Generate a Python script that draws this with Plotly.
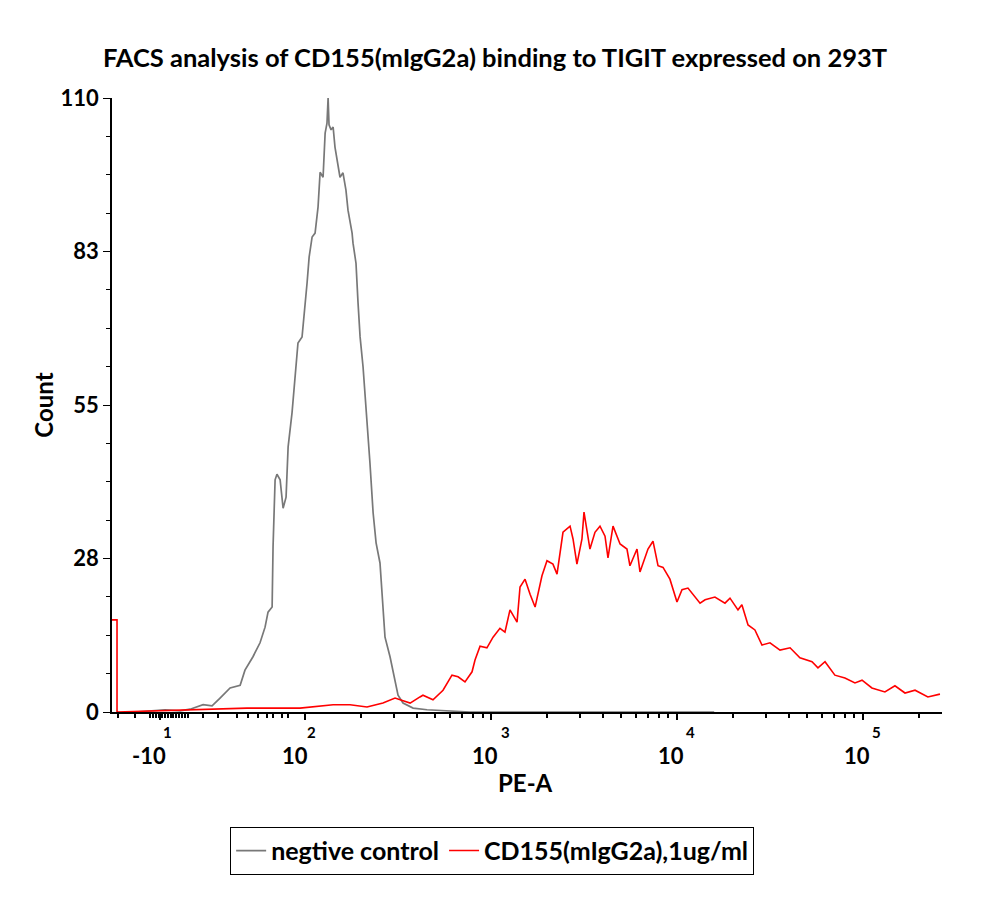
import numpy as np
import plotly.graph_objects as go

# x positions are in display "decade" units of PE-A (10^k sits at k)
neg_x = [1.086, 1.167, 1.247, 1.328, 1.382, 1.452, 1.500, 1.543, 1.597, 1.651, 1.677, 1.720,
         1.758, 1.785, 1.801, 1.823, 1.828, 1.839, 1.849, 1.866, 1.882, 1.898, 1.909, 1.930,
         1.946, 1.962, 1.984, 2.000, 2.011, 2.022, 2.038, 2.054, 2.070, 2.081, 2.097, 2.108,
         2.118, 2.124, 2.129, 2.140, 2.151, 2.161, 2.177, 2.188, 2.204, 2.220, 2.231, 2.253,
         2.258, 2.274, 2.285, 2.296, 2.312, 2.323, 2.333, 2.349, 2.366, 2.382, 2.403, 2.414,
         2.430, 2.457, 2.484, 2.500, 2.527, 2.581, 2.656, 2.753, 2.887, 3.5, 4.2]
neg_y = [0, 0.2, 0.4, 0.2, 0.5, 1.3, 1.1, 2.5, 4.3, 4.8, 7.5, 9.9,
         12.4, 15.2, 17.9, 18.8, 29.6, 41.6, 42.6, 41.6, 36.5, 38.5, 47.5, 53.6,
         59.5, 66.1, 67.2, 72.6, 76.9, 81.5, 85.1, 85.8, 90.5, 96.7, 95.8, 103.7,
         105.5, 110, 105.2, 104.3, 104.8, 101.2, 98.4, 95.8, 96.6, 93.5, 89.9, 85.8,
         84.0, 80.4, 73.3, 67.2, 61.8, 56.8, 53.6, 44.6, 35.7, 30.3, 26.7, 21.9,
         13.4, 9.9, 5.7, 3.0, 1.6, 0.7, 0.4, 0.2, 0, 0, 0]

cd155_x = [0.962, 0.989, 0.989, 1.688, 1.849, 1.973, 2.151, 2.242, 2.333, 2.419, 2.484, 2.511,
           2.548, 2.565, 2.618, 2.634, 2.688, 2.742, 2.790, 2.823, 2.860, 2.898, 2.914, 2.941,
           2.978, 3.011, 3.048, 3.075, 3.102, 3.140, 3.156, 3.183, 3.210, 3.237, 3.274, 3.301,
           3.333, 3.355, 3.387, 3.425, 3.441, 3.462, 3.489, 3.500, 3.532, 3.559, 3.586, 3.613,
           3.629, 3.656, 3.694, 3.731, 3.747, 3.785, 3.801, 3.844, 3.871, 3.898, 3.925, 3.962,
           4.000, 4.027, 4.059, 4.097, 4.124, 4.151, 4.204, 4.258, 4.285, 4.328, 4.349, 4.382,
           4.419, 4.457, 4.500, 4.554, 4.608, 4.661, 4.726, 4.758, 4.796, 4.849, 4.903, 4.957,
           4.995, 5.048, 5.118, 5.172, 5.226, 5.280, 5.349, 5.414]
cd155_y = [16.5, 16.5, 0, 0.7, 0.7, 0.7, 1.3, 1.3, 0.9, 1.6, 2.5, 2.2,
           1.8, 1.6, 2.7, 3.0, 2.2, 3.9, 6.6, 6.3, 5.4, 7.2, 9.3, 11.8,
           11.5, 13.4, 15.0, 14.3, 18.3, 16.1, 22.4, 23.8, 21.1, 18.8, 24.4, 27.1,
           26.5, 24.7, 32.2, 33.3, 31.0, 26.5, 31.0, 35.8, 29.2, 32.2, 33.3, 31.5,
           27.6, 33.3, 30.1, 29.2, 26.2, 29.2, 25.1, 29.2, 30.6, 26.2, 25.9, 23.8,
           19.7, 21.9, 22.2, 20.6, 19.5, 20.1, 20.6, 19.5, 20.4, 18.3, 19.2, 15.6,
           14.7, 12.0, 12.4, 11.1, 11.5, 9.7, 9.0, 7.9, 9.0, 6.6, 6.1, 5.2,
           5.7, 4.3, 3.6, 4.7, 3.4, 3.9, 2.7, 3.2]

# axis tick labels
x_tick_pos = [1.22, 2, 3, 4, 5]
x_tick_base = ["-10", "10", "10", "10", "10"]
x_tick_exp = ["1", "2", "3", "4", "5"]
y_tick_vals = [0, 27.5, 55, 82.5, 110]
y_tick_text = ["0", "28", "55", "83", "110"]

FONT = "Lato"

# minor tick styling for the biexponential axis
minor_x = [0.995, 1.086] + list(np.linspace(1.167, 1.371, 14)) + \
          [1.452, 1.532, 1.634, 1.694, 1.747, 1.796, 1.828, 1.876, 1.909]
for k in (2, 3, 4, 5):
    for m in range(2, 10):
        v = k + np.log10(m)
        if v < 5.42:
            minor_x.append(v)

fig = go.Figure()
fig.add_trace(go.Scatter(x=neg_x, y=neg_y, mode="lines", name="negtive control",
                         line=dict(color="rgb(120,120,120)", width=1.7)))
fig.add_trace(go.Scatter(x=cd155_x, y=cd155_y, mode="lines", name="CD155(mIgG2a),1ug/ml",
                         line=dict(color="rgb(255,0,0)", width=1.6)))

annotations = []
for pos, base, ex in zip(x_tick_pos, x_tick_base, x_tick_exp):
    bshift = -11 if base.startswith("-") else -6
    eshift = 8 if base.startswith("-") else 14
    if pos == 2:
        bshift, eshift = -10, 6
    annotations.append(dict(x=pos, y=0, xref="x", yref="paper", text=base, showarrow=False,
                            xanchor="center", yanchor="middle", yshift=-43, xshift=bshift,
                            font=dict(family=FONT, size=22, weight="bold", color="black")))
    annotations.append(dict(x=pos, y=0, xref="x", yref="paper", text=ex, showarrow=False,
                            xanchor="center", yanchor="middle", yshift=-20, xshift=eshift,
                            font=dict(family=FONT, size=15, weight="bold", color="black")))
annotations.append(dict(x=0.4976, y=0, xref="paper", yref="paper", text="PE-A", showarrow=False,
                        xanchor="center", yanchor="middle", yshift=-70,
                        font=dict(family=FONT, size=24, weight="bold", color="black")))

fig.update_layout(
    width=1000, height=909,
    margin=dict(l=104, r=66, t=90, b=205),
    paper_bgcolor="white", plot_bgcolor="white",
    title=dict(text="FACS analysis of CD155(mIgG2a) binding to TIGIT expressed on 293T",
               x=0.487, xanchor="center", y=1 - 50 / 909, yanchor="middle",
               font=dict(family=FONT, size=25.5, weight="bold", color="black")),
    xaxis=dict(range=[0.962, 5.425], showgrid=False, zeroline=False, showline=True,
               linecolor="black", linewidth=1.5, ticks="outside", ticklen=6, tickwidth=1.5,
               tickcolor="black", tickmode="array", tickvals=x_tick_pos, showticklabels=False,
               minor=dict(tickmode="array", tickvals=minor_x, ticks="outside", ticklen=4,
                          tickwidth=1.5, tickcolor="black")),
    yaxis=dict(range=[0, 110], showgrid=False, zeroline=False, showline=True,
               linecolor="black", linewidth=1.5, ticks="outside", ticklen=7, tickwidth=1.2,
               tickcolor="black", tickmode="array", tickvals=y_tick_vals, ticktext=y_tick_text,
               tickfont=dict(family=FONT, size=22, weight="bold", color="black"),
               minor=dict(tick0=0, dtick=6.875, ticks="outside", ticklen=4, tickwidth=1,
                          tickcolor="black"),
               title=dict(text="Count", standoff=0,
                          font=dict(family=FONT, size=24, weight="bold", color="black"))),
    legend=dict(orientation="h", x=0.458, xanchor="center", y=-0.187, yanchor="top",
                bordercolor="black", borderwidth=1, bgcolor="white",
                font=dict(family=FONT, size=25, weight="bold", color="black"),
                itemwidth=30, tracegroupgap=0),
    annotations=annotations,
    showlegend=True,
)

fig.write_html("out.html")
